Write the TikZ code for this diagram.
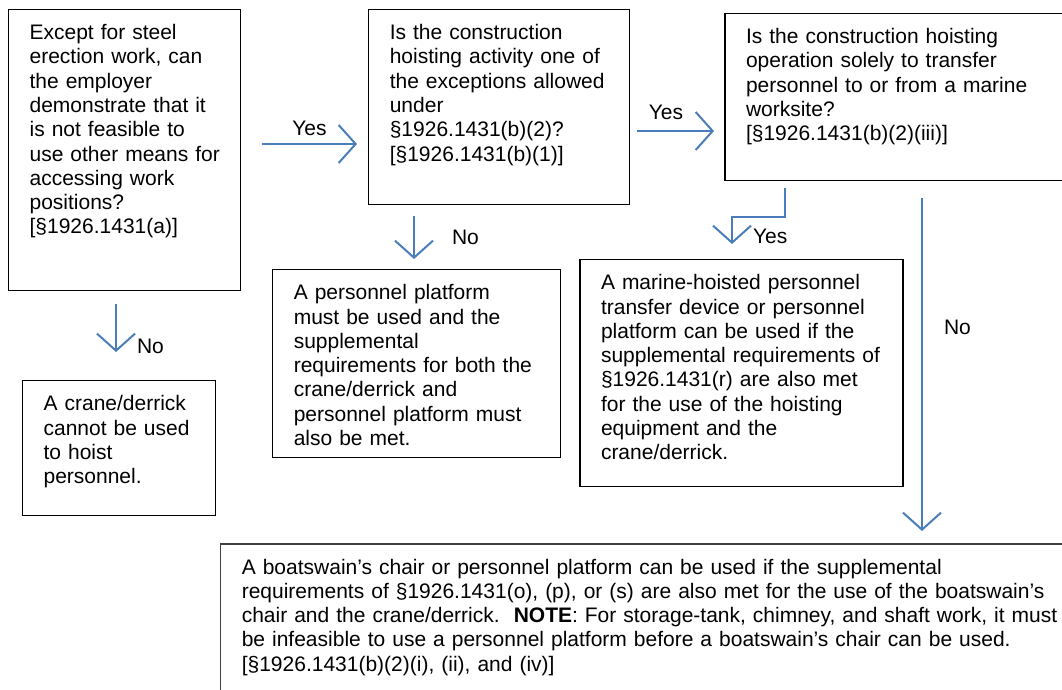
\documentclass[tikz,border=0pt]{standalone}
\usepackage{fontspec}
\setmainfont{Liberation Sans}
\usepackage{xcolor}
\usepackage{tikz}
\usetikzlibrary{positioning}
\usetikzlibrary{arrows.meta}
\definecolor{flowblue}{HTML}{4A7EBB}
\tikzstyle{box} = [draw=black, line width=0.6pt, align=left, inner xsep=10.5pt,
inner ysep=0pt, text height=15pt, font=\fontsize{10.5}{12.15}\selectfont]
\tikzstyle{flow} = [draw=flowblue, line width=1pt,
-{Straight Barb[length=8.5pt,width=19pt]}]
\tikzstyle{lbl} = [inner sep=0pt, font=\fontsize{10.5}{12.15}\selectfont]
\newcommand{\boxlines}[1]{\begin{tabular}[t]{@{}l@{}}#1\end{tabular}}

\begin{document}
\begin{tikzpicture}[x=0.5pt, y=-0.5pt]
  \useasboundingbox (0,0) rectangle (1062,690);
  % questions
  \node[box, text width=95pt, text depth=125.5pt, anchor=north west] (A) at (8,9)
    {\boxlines{Except for steel\\ erection work, can\\ the employer\\ demonstrate that it\\
    is not feasible to\\ use other means for\\ accessing work\\ positions?\\ {[}§1926.1431(a)]}};
  \node[box, text width=109.5pt, text depth=82.5pt, right = 63.5pt of A.north east, anchor=north west] (B)
    {\boxlines{Is the construction\\ hoisting activity one of\\ the exceptions allowed\\ under\\
    §1926.1431(b)(2)?\\ {[}§1926.1431(b)(1)]}};
  \node[box, text width=150pt, text depth=68.5pt, right = 47pt of B.north east, yshift = -2pt, anchor=north west] (C)
    {\boxlines{Is the construction hoisting\\ operation solely to transfer\\ personnel to or from a marine\\
    worksite?\\ {[}§1926.1431(b)(2)(iii)]}};
  % answers
  \node[box, text width=75.5pt, text depth=52.5pt, below = 44.5pt of A.south west, xshift = 7pt, anchor=north west] (D)
    {\boxlines{A crane/derrick\\ cannot be used\\ to hoist\\ personnel.}};
  \node[box, text width=123pt, text depth=79pt, below = 32pt of B.south west, xshift = -48pt, anchor=north west] (E)
    {\boxlines{A personnel platform\\ must be used and the\\ supplemental\\ requirements for both the\\
    crane/derrick and\\ personnel platform must\\ also be met.}};
  \node[box, text width=140.5pt, text depth=98.5pt, below = 39pt of C.south west, xshift = -72.5pt, anchor=north west] (F)
    {\boxlines{A marine-hoisted personnel\\ transfer device or personnel\\ platform can be used if the\\
    supplemental requirements of\\ §1926.1431(r) are also met\\ for the use of the hoisting\\
    equipment and the\\ crane/derrick.}};
  \node[box, draw=black!75, text width=401.5pt, text depth=61pt, below = 42.5pt of E.south west, xshift = -26pt, anchor=north west] (G)
    {\boxlines{A boatswain’s chair or personnel platform can be used if the supplemental\\
    requirements of §1926.1431(o), (p), or (s) are also met for the use of the boatswain’s\\
    chair and the crane/derrick.\ \ \textbf{NOTE}: For storage-tank, chimney, and shaft work, it must\\
    be infeasible to use a personnel platform before a boatswain’s chair can be used.\\
    {[}§1926.1431(b)(2)(i), (ii), and (iv)]}};

  % arrow ends
  \coordinate (ab0) at (262,144);
  \coordinate (ab1) at (357,144);
  \coordinate (bc0) at (637,131);
  \coordinate (bc1) at (714,131);
  \coordinate (ad0) at (116,304);
  \coordinate (ad1) at (116,352);
  \coordinate (be0) at (414,216);
  \coordinate (be1) at (414,259);
  \coordinate (cf0) at (785,188);
  \coordinate (cf1) at (732,244);
  \coordinate (cg0) at (922,198);
  \coordinate (cg1) at (922,531);

  % yes
  \draw[flow] (ab0) -- node[lbl, above = 3.5pt] (yes1) {Yes} (ab1);
  \draw[flow] (bc0) -- node[lbl, above = 5pt, xshift = -4.75pt] (yes2) {Yes} (bc1);
  \draw[flow] (cf0) -- ++(0,29) -| node[lbl, pos=0.85, anchor=west, xshift = 10pt] (yes3) {Yes} (cf1);
  % no
  \draw[flow] (ad0) -- node[lbl, pos=0.89, anchor=west, xshift = 10pt] (no1) {No} (ad1);
  \draw[flow] (be0) -- node[lbl, pos=0.5, anchor=west, xshift = 18.5pt] (no2) {No} (be1);
  \draw[flow] (cg0) -- node[lbl, pos=0.39, anchor=west, xshift = 10.5pt] (no3) {No} (cg1);
\end{tikzpicture}
\end{document}
